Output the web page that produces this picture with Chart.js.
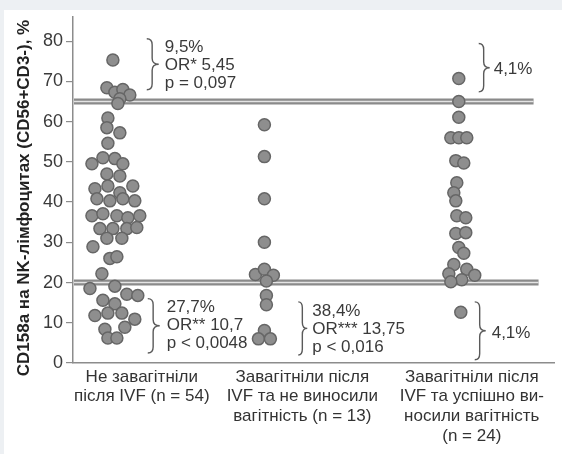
<!DOCTYPE html>
<html>
<head>
<meta charset="utf-8">
<script src="https://cdn.jsdelivr.net/npm/chart.js@4.4.0/dist/chart.umd.min.js"></script>
<style>
  html, body { margin: 0; padding: 0; background: #ffffff; }
  #wrap { width: 562px; height: 454px; }
</style>
</head>
<body>
<div id="wrap"><canvas id="c" width="562" height="454"></canvas></div>
<script>
// Group captions (one array entry per text line)
const categories = [
  ["Не завагітніли", "після IVF (n = 54)"],
  ["Завагітніли після", "IVF та не виносили", "вагітність (n = 13)"],
  ["Завагітніли після", "IVF та успішно ви-", "носили вагітність", "(n = 24)"]
];
// Where each caption sits and where each column of dots is centred on the x scale
const labelPos = [69, 230, 400];
const groupPos = [42, 192, 387];

const yTicks = [0, 10, 20, 30, 40, 50, 60, 70, 80];
const yTitle = 'CD158a на NK-лімфоцитах (CD56+CD3-), %';
const thresholds = [65, 20];

// CD158a+ share, % — not pregnant after IVF (n = 54)
const group1 = [75.3, 68.4, 67.3, 68.0, 66.6, 65.7, 64.5, 60.9, 58.5, 57.2,
  54.6, 49.5, 51.0, 50.8, 49.5, 47.0, 46.5, 43.3, 44.0, 44.0,
  42.3, 40.8, 40.3, 40.8, 40.3, 36.6, 37.1, 36.6, 36.1, 36.6,
  33.4, 33.4, 33.4, 33.7, 31.0, 31.0, 28.9, 26.0, 26.4, 22.2,
  18.5, 19.1, 17.1, 16.8, 15.6, 14.7, 11.8, 12.4, 12.4, 10.9,
  8.4, 8.9, 6.2, 6.2];
const group1Jitter = [-2, -8, 0, 8, 15, 5, 3, -7, -8, 5,
  -7, -23, -12, 0, 8, -8, 5, -20, -7, 18,
  5, -18, -5, 8, 20, -23, -12, 2, 13, 25,
  -15, -2, 12, 22, -8, 7, -22, -5, 2, -13,
  -25, 0, 12, 23, -12, 0, -20, -7, 7, 20,
  -10, 10, -7, 2];

// Pregnant, pregnancy lost (n = 13)
const group2 = [59.2, 51.3, 40.8, 30.0, 22.0, 23.3, 21.8, 20.4, 16.8, 14.5, 8.1, 6.0, 6.0];
const group2Jitter = [0, 0, 0, 0, -9, 0, 9, 2, 2, 2, 0, -6, 6];

// Pregnant, pregnancy carried (n = 24)
const group3 = [70.7, 65.0, 61.1, 56.0, 56.0, 56.0, 50.3, 49.7, 44.8, 42.3,
  40.3, 36.6, 36.1, 32.2, 32.4, 28.7, 27.3, 24.5, 23.3, 22.2,
  21.8, 20.7, 20.2, 12.6];
const group3Jitter = [0, 0, 0, -8, 0, 8, -3, 5, -2, -5,
  -3, -2, 7, -3, 7, 0, 5, -5, 8, -10,
  16, 3, -8, 2];

// Bracketed statistics next to the dot columns
const notes = [
  { x: 74, w: 12, top: 80.6, bottom: 67.9, tx: 92, lines: ["9,5%", "OR* 5,45", "p = 0,097"] },
  { x: 75, w: 12, top: 16.0, bottom: 2.5, tx: 94, lines: ["27,7%", "OR** 10,7", "p < 0,0048"] },
  { x: 226, w: 9, top: 15.2, bottom: 2.0, tx: 240, lines: ["38,4%", "OR*** 13,75", "p < 0,016"] },
  { x: 407, w: 11, top: 79.4, bottom: 67.4, tx: 422, lines: ["4,1%"] },
  { x: 403, w: 11, top: 15.2, bottom: 0.8, tx: 420, lines: ["4,1%"] }
];

const X_MAX = 483;
const LINE_END = [462, 467];

function pts(vals, jit, g) {
  return vals.map((v, i) => ({ x: groupPos[g] + jit[i], y: v }));
}

const dotStyle = {
  type: 'scatter',
  pointRadius: 6,
  pointHoverRadius: 6,
  pointBackgroundColor: '#8e8e8e',
  pointBorderColor: '#666666',
  pointBorderWidth: 1.5,
  showLine: false
};

const datasets = [];
thresholds.forEach((t, i) => {
  const data = [{ x: 1, y: t }, { x: LINE_END[i], y: t }];
  datasets.push({ type: 'line', data, borderColor: '#8a8a8a', borderWidth: 6, pointRadius: 0, order: 10 });
  datasets.push({ type: 'line', data, borderColor: '#e4e4e4', borderWidth: 1.6, pointRadius: 0, order: 9 });
});
datasets.push(Object.assign({ data: pts(group1, group1Jitter, 0), order: 3 }, dotStyle));
datasets.push(Object.assign({ data: pts(group2, group2Jitter, 1), order: 2 }, dotStyle));
datasets.push(Object.assign({ data: pts(group3, group3Jitter, 2), order: 1 }, dotStyle));

const pageBackground = {
  id: 'pageBackground',
  beforeDraw(chart) {
    const ctx = chart.ctx;
    ctx.save();
    ctx.fillStyle = '#edf0f3';
    ctx.fillRect(0, 0, chart.width, chart.height);
    ctx.fillStyle = '#ffffff';
    ctx.fillRect(4, 10, chart.width - 4, chart.height - 10);
    ctx.restore();
  }
};

// Rotated y-axis caption, centred a little below the middle of the plot
const axisCaption = {
  id: 'axisCaption',
  afterDraw(chart) {
    const ctx = chart.ctx;
    const area = chart.chartArea;
    ctx.save();
    ctx.translate(24, (area.top + area.bottom) / 2 + 8);
    ctx.rotate(-Math.PI / 2);
    ctx.fillStyle = '#222222';
    ctx.font = 'bold 17px "Liberation Sans", Arial, sans-serif';
    ctx.textAlign = 'center';
    ctx.textBaseline = 'middle';
    ctx.fillText(yTitle, 0, 0);
    ctx.restore();
  }
};

function drawBrace(ctx, x0, w, yTop, yBot) {
  const xm = x0 + w * 0.45;
  const x1 = x0 + w;
  const mid = (yTop + yBot) / 2;
  const r = Math.min(6, (yBot - yTop) / 6);
  ctx.beginPath();
  ctx.moveTo(x0, yTop);
  ctx.quadraticCurveTo(xm, yTop, xm, yTop + r);
  ctx.lineTo(xm, mid - r);
  ctx.quadraticCurveTo(xm, mid, x1, mid);
  ctx.quadraticCurveTo(xm, mid, xm, mid + r);
  ctx.lineTo(xm, yBot - r);
  ctx.quadraticCurveTo(xm, yBot, x0, yBot);
  ctx.stroke();
}

const braceNotes = {
  id: 'braceNotes',
  afterDatasetsDraw(chart) {
    const { ctx, scales: { x, y } } = chart;
    ctx.save();
    ctx.strokeStyle = '#5a5a5a';
    ctx.lineWidth = 1.4;
    ctx.fillStyle = '#3a3a3a';
    ctx.font = '17px "Liberation Sans", Arial, sans-serif';
    ctx.textBaseline = 'middle';
    ctx.textAlign = 'left';
    notes.forEach(n => {
      const px = x.getPixelForValue(n.x);
      const yt = y.getPixelForValue(n.top);
      const yb = y.getPixelForValue(n.bottom);
      drawBrace(ctx, px, x.getPixelForValue(n.x + n.w) - px, yt, yb);
      const tx = x.getPixelForValue(n.tx);
      if (n.lines.length === 1) {
        ctx.fillText(n.lines[0], tx, (yt + yb) / 2 + 2);
      } else {
        n.lines.forEach((s, i) => ctx.fillText(s, tx, yt + 9 + i * 18));
      }
    });
    ctx.restore();
  }
};

new Chart(document.getElementById('c'), {
  data: { datasets },
  options: {
    responsive: false,
    animation: false,
    devicePixelRatio: 1,
    layout: { padding: { left: 4, top: 17, right: 6, bottom: 0 } },
    plugins: { legend: { display: false }, tooltip: { enabled: false } },
    scales: {
      x: {
        type: 'linear',
        min: 0,
        max: X_MAX,
        afterBuildTicks: s => { s.ticks = labelPos.map(v => ({ value: v })); },
        afterFit: s => { s.height = 91; },
        grid: { display: true, drawOnChartArea: false, drawTicks: false },
        border: { display: true, color: '#8c8c8c', width: 1.5 },
        ticks: {
          autoSkip: false,
          maxRotation: 0,
          minRotation: 0,
          padding: 4,
          color: '#333333',
          font: { family: '"Liberation Sans", Arial, sans-serif', size: 17, lineHeight: 1.16 },
          callback: (v, i) => categories[i]
        }
      },
      y: {
        type: 'linear',
        min: 0,
        max: 86,
        afterBuildTicks: s => { s.ticks = yTicks.map(v => ({ value: v })); },
        afterFit: s => { s.width = 69; },
        grid: { display: true, drawOnChartArea: false, drawTicks: true, tickLength: 7, color: '#8c8c8c', lineWidth: 1.2 },
        border: { display: true, color: '#8c8c8c', width: 1.5 },
        ticks: {
          padding: 3,
          color: '#3a3a3a',
          font: { family: '"Liberation Sans", Arial, sans-serif', size: 18 }
        }
      }
    }
  },
  plugins: [pageBackground, braceNotes, axisCaption]
});
</script>
</body>
</html>
